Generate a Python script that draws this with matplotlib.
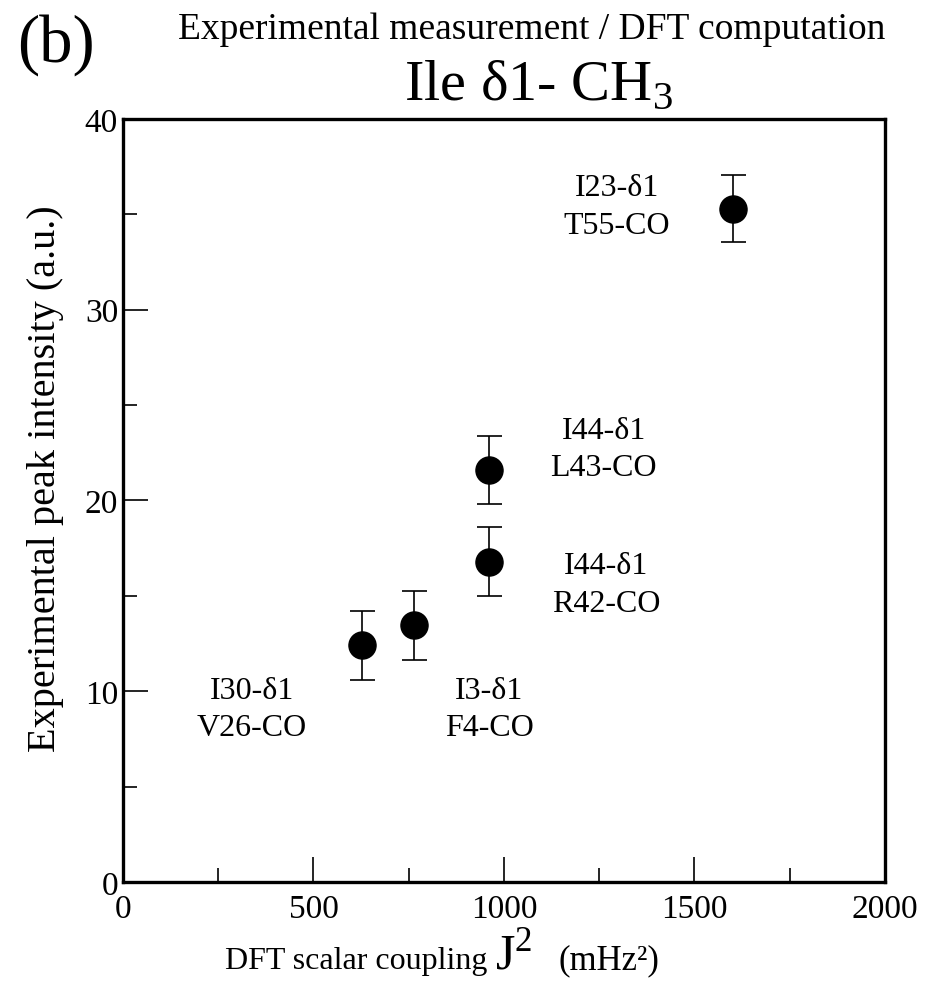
import matplotlib.pyplot as plt
from matplotlib.ticker import MultipleLocator

# data
coupling = [627, 765, 961, 961, 1600]          # DFT J^2 (mHz^2)
intensity = [12.4, 13.45, 21.6, 16.8, 35.3]     # experimental peak intensity
errors = [1.83, 1.8, 1.77, 1.8, 1.77]
labels = ["I30-δ1\nV26-CO", "I3-δ1\nF4-CO", "I44-δ1\nL43-CO",
          "I44-δ1\nR42-CO", "I23-δ1\nT55-CO"]
label_pos = [(339, 9.07), (961, 9.07), (1262, 22.7), (1268, 15.6), (1297, 35.4)]

plt.rcParams['font.family'] = ['Liberation Serif', 'DejaVu Serif']
plt.rcParams['mathtext.fontset'] = 'custom'
plt.rcParams['mathtext.rm'] = 'Liberation Serif'

fig = plt.figure(figsize=(9.26, 9.95), dpi=100)
ax = fig.add_axes([0.1328, 0.1126, 0.8229, 0.7668])

# points with error bars
ax.errorbar(coupling, intensity, yerr=errors, fmt='o', color='black',
            markersize=19.5, elinewidth=1.2, capsize=9, capthick=1.2)

# point labels
for (tx, ty), lab in zip(label_pos, labels):
    ax.text(tx, ty, lab, ha='center', va='center', fontsize=23, linespacing=1.4)

ax.set_xlim(0, 2000)
ax.set_ylim(0, 40)
ax.xaxis.set_major_locator(MultipleLocator(500))
ax.xaxis.set_minor_locator(MultipleLocator(250))
ax.yaxis.set_major_locator(MultipleLocator(10))
ax.yaxis.set_minor_locator(MultipleLocator(5))
ax.tick_params(which='both', direction='in', labelsize=24, width=1.2)
ax.tick_params(which='major', length=18)
ax.tick_params(which='minor', length=10)
ax.tick_params(axis='x', pad=8)
for s in ax.spines.values():
    s.set_linewidth(2.4)

ax.set_ylabel('Experimental peak intensity (a.u.)', fontsize=29)
ax.yaxis.set_label_coords(-0.078, 0.53)

# x label built from pieces to get the large J
fig.text(0.243, 0.026, 'DFT scalar coupling', fontsize=23, va='baseline')
fig.text(0.535, 0.026, r'J$^{2}$', fontsize=36, va='baseline')
fig.text(0.603, 0.026, '(mHz²)', fontsize=25, va='baseline')

# titles
fig.text(0.192, 0.961, 'Experimental measurement / DFT computation', fontsize=27,
         va='baseline')
fig.text(0.582, 0.9, r'Ile δ1- CH$_3$', fontsize=42, va='baseline', ha='center')
fig.text(0.018, 0.938, '(b)', fontsize=48, va='baseline')

plt.savefig('out.png', dpi=100)
